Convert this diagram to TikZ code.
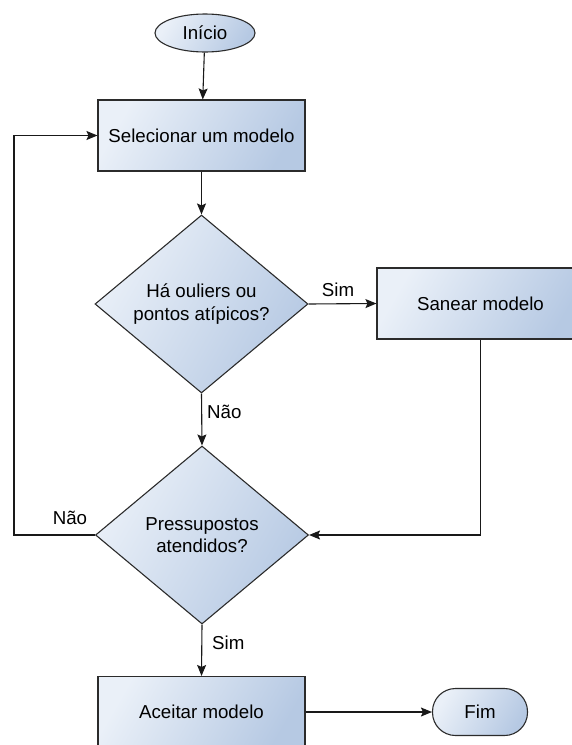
\documentclass[tikz,border=0pt]{standalone}
\usepackage{fontspec}
\setmainfont{Liberation Sans}
\usetikzlibrary{shapes.geometric,arrows.meta}
\definecolor{fillA}{HTML}{EAF0F8}
\definecolor{fillB}{HTML}{B6C9E3}
\definecolor{edgeC}{HTML}{2B2B2B}
\begin{document}
\begin{tikzpicture}[x=1pt,y=-1pt,
  font=\fontsize{18.7}{22.5}\selectfont,
  base/.style={draw=edgeC, line width=1.1pt, inner sep=0pt, align=center,
    left color=fillA, right color=fillB, shading angle=60},
  procbox/.style={base, rectangle, minimum width=207pt, minimum height=71pt},
  decision/.style={base, diamond, minimum width=213pt, minimum height=178pt, aspect=1.2},
  startnode/.style={base, ellipse, minimum width=100pt, minimum height=38pt},
  endnode/.style={base, rectangle, rounded corners=23pt, minimum width=95pt, minimum height=47pt},
  flow/.style={draw=black!90, line width=1.1pt, -{Stealth[length=11pt,width=9pt,inset=2pt]}},
  lbl/.style={inner sep=0pt}
]
\useasboundingbox (0,0) rectangle (571,745);

\node[startnode] (inicio) at (205,33) {Início};
\node[procbox] (sel) at (201.5,135.5) {Selecionar um modelo};
\node[decision] (d1) at (201.5,304) {Há ouliers ou\\pontos atípicos?};
\node[procbox] (san) at (480.5,303.5) {Sanear modelo};
\node[decision] (d2) at (202,535) {Pressupostos\\atendidos?};
\node[procbox] (acc) at (201.5,712) {Aceitar modelo};
\node[endnode] (fim) at (480,712) {Fim};

\coordinate (loopB) at (14,535);
\coordinate (loopT) at (14,135.5);

\draw[flow] (inicio) -- (sel);
\draw[flow] (sel) -- (d1);
\draw[flow] (d1.east) -- (san.west);
\draw[flow] (d1.south) -- (d2.north);
\draw[flow] (san.south) |- (d2.east);
\draw[flow] (d2.west) -- (loopB) -- (loopT) -- (sel.west);
\draw[flow] (d2.south) -- (acc.north);
\draw[flow] (acc.east) -- (fim.west);

\node[lbl] (lsim1) at (338,290) {Sim};
\node[lbl, anchor=west] (lnao1) at (207,412) {Não};
\node[lbl] (lnao2) at (70,518) {Não};
\node[lbl, anchor=west] (lsim2) at (212,643) {Sim};
\end{tikzpicture}
\end{document}
